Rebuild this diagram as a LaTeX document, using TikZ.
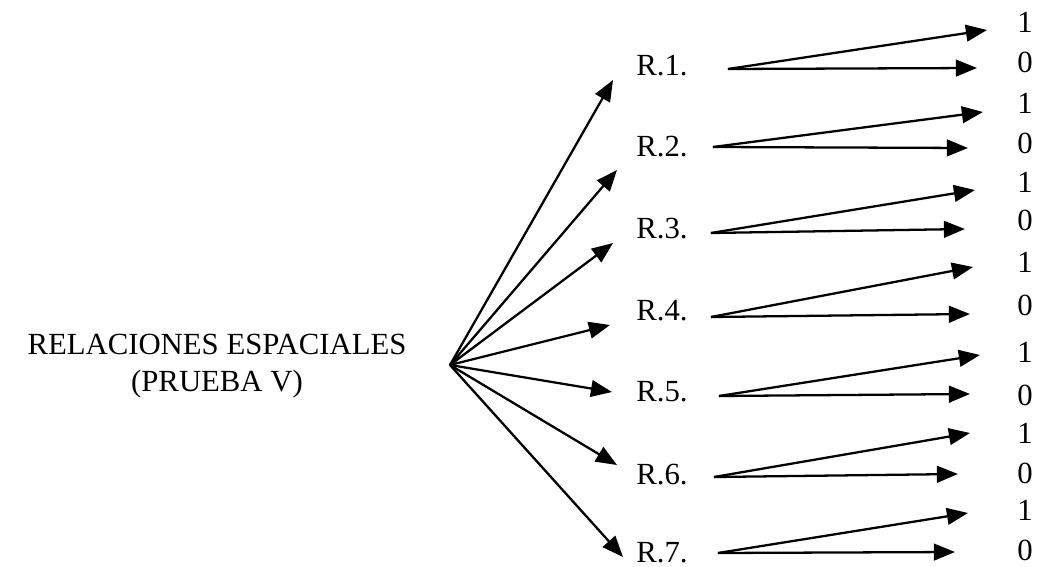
\documentclass[tikz,border=0pt]{standalone}
\usepackage{fontspec}
\setmainfont{Liberation Serif}
\usetikzlibrary{arrows.meta,calc}

\tikzset{
  pil/.style={-{Triangle[length=12pt,width=9.5pt]}, line width=1.3pt},
  tekst/.style={font=\fontsize{17.5}{21}\selectfont, inner sep=0pt}
}

\begin{document}
\begin{tikzpicture}[x=0.02cm,y=-0.02cm]
    \useasboundingbox (0,0) rectangle (1040,567);
    \node[tekst, align=center] (rel) at (217,366) {RELACIONES ESPACIALES\\(PRUEBA V)};
    \coordinate (o) at (450,365); % felles startpunkt for viften
    % R-er, enere og nuller
    \foreach \i/\ry/\uy/\ly in {1/66/22/62, 2/147/103/143, 3/229/182/220, 4/311/262/305,
                                5/392/352/395, 6/475/433/473, 7/553/510/550} {
        \node[tekst, anchor=west] (R\i) at (636,\ry) {R.\i.};
        \node[tekst] (uno\i) at (1025,\uy) {1};
        \node[tekst] (cero\i) at (1025,\ly) {0};
    }
    % viften
    \foreach \i/\dx/\dy in {1/-23/14, 2/-19/23, 3/-23/14, 4/-26/14, 5/-24/0, 6/-19/-10, 7/-13/4}
        \draw[pil] (o) -- ($(R\i.west)+(\dx,\dy)$);
    % to piler fra hver R
    \foreach \i/\sx/\sy/\ux/\uy/\lx/\ly in {1/40/3/-30/8/-40/6, 2/25/0/-34/9/-49/5, 3/23/4/-42/8/-52/9,
                                             4/23/6/-44/5/-47/9, 5/31/4/-37/3/-47/-1, 6/26/2/-47/0/-59/1,
                                             7/30/0/-49/3/-62/2} {
        \coordinate (s\i) at ($(R\i.east)+(\sx,\sy)$);
        \draw[pil] (s\i) -- ($(uno\i.west)+(\ux,\uy)$); % til 1
        \draw[pil] (s\i) -- ($(cero\i.west)+(\lx,\ly)$); % til 0
    }
\end{tikzpicture}
\end{document}
